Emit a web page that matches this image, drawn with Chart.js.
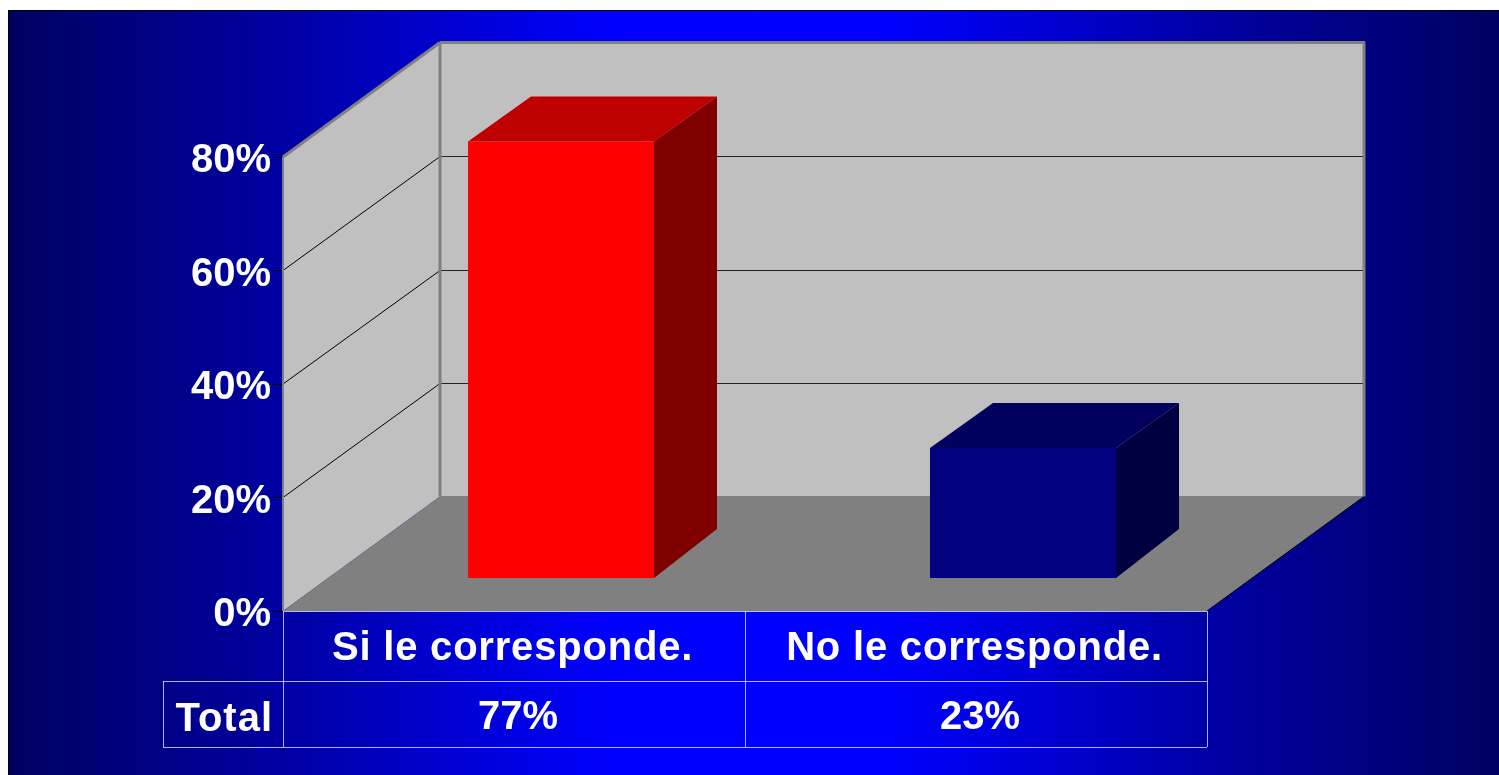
<!DOCTYPE html>
<html lang="es">
<head>
<meta charset="utf-8">
<title>Total</title>
<style>
    html, body { margin: 0; padding: 0; background: #fff; overflow: hidden; }
    canvas { display: block; }
</style>
<script src="https://cdn.jsdelivr.net/npm/chart.js@4/dist/chart.umd.min.js"></script>
</head>
<body>
<canvas id="chart" width="1499" height="775"></canvas>
<script>
const categories = ['Si le corresponde.', 'No le corresponde.'];
const totals = [77, 23];
const barFronts = ['#ff0000', '#000080'];
const barTops = ['#bf0000', '#00005f'];
const barSides = ['#800000', '#000040'];
const tickValues = [0, 20, 40, 60, 80];
const tableRowLabel = 'Total';

const FONT = '"Liberation Sans", Arial, sans-serif';
const WALL = '#c0c0c0';
const EDGE = '#808080';
const TABLE_LINE = 'rgba(225, 225, 255, 0.8)';

// Fake 3D: the wall sits one "wall depth" behind the axis plane, bars part way in
const wallDepth = { x: 157, y: -114.5 };
const barShift = { x: 47, y: -32.5 };
const barDepth = { x: 63, y: -45 };

function poly(ctx, pts, fill) {
    ctx.beginPath();
    pts.forEach(([x, y], i) => (i ? ctx.lineTo(x, y) : ctx.moveTo(x, y)));
    ctx.closePath();
    ctx.fillStyle = fill;
    ctx.fill();
}

function line(ctx, x1, y1, x2, y2, color, width) {
    ctx.beginPath();
    ctx.moveTo(x1, y1);
    ctx.lineTo(x2, y2);
    ctx.strokeStyle = color;
    ctx.lineWidth = width;
    ctx.stroke();
}

const backgroundPlugin = {
    id: 'slideBackground',
    beforeDraw(chart) {
        const { ctx, width, height } = chart;
        const frameX = 8, frameY = 10;
        const grad = ctx.createLinearGradient(frameX, 0, width, 0);
        grad.addColorStop(0, '#000060');
        grad.addColorStop(0.187, '#0000a4');
        grad.addColorStop(0.33, '#0000e0');
        grad.addColorStop(0.41, '#0000ff');
        grad.addColorStop(0.585, '#0000ff');
        grad.addColorStop(0.665, '#0000e0');
        grad.addColorStop(0.808, '#0000a4');
        grad.addColorStop(1, '#000060');
        ctx.save();
        ctx.fillStyle = grad;
        ctx.fillRect(frameX, frameY, width - frameX, height - frameY);
        line(ctx, frameX, frameY + 0.5, width, frameY + 0.5, '#000010', 1);
        line(ctx, frameX + 0.5, frameY, frameX + 0.5, height, '#000010', 1);
        ctx.restore();
    }
};

const wallsPlugin = {
    id: 'walls3d',
    beforeDatasetsDraw(chart) {
        const { ctx, chartArea: a, scales: { y } } = chart;
        const dx = wallDepth.x, dy = wallDepth.y;
        const backLeft = a.left + dx, backRight = a.right + dx;
        const backTop = a.top + dy, backBottom = a.bottom + dy;
        ctx.save();
        // back wall, side wall, floor
        poly(ctx, [[backLeft, backTop], [backRight, backTop], [backRight, backBottom], [backLeft, backBottom]], WALL);
        poly(ctx, [[a.left, a.top], [backLeft, backTop], [backLeft, backBottom], [a.left, a.bottom]], WALL);
        poly(ctx, [[a.left, a.bottom], [a.right, a.bottom], [backRight, backBottom], [backLeft, backBottom]], EDGE);
        line(ctx, backLeft, backBottom, backRight, backBottom, EDGE, 1);

        // gridlines run along the side wall, then across the back wall
        tickValues.slice(1, -1).forEach(v => {
            const py = y.getPixelForValue(v);
            const backY = Math.round(py + dy) + 0.5;
            line(ctx, a.left, py, backLeft, backY, '#000', 1);
            line(ctx, backLeft, backY, backRight, backY, '#222', 1);
        });

        // wall outlines
        line(ctx, a.left, a.top, backLeft, backTop, EDGE, 3);
        line(ctx, backLeft, backTop, backRight + 1, backTop, EDGE, 3);
        line(ctx, backLeft, backTop, backLeft, backBottom, EDGE, 3);
        line(ctx, backRight, backTop, backRight, backBottom, EDGE, 3);
        line(ctx, a.left, a.top, a.left, a.bottom, EDGE, 2);
        line(ctx, a.right, a.bottom, backRight, backBottom, '#000', 1);
        ctx.restore();
    }
};

const barBoxPlugin = {
    id: 'barBoxes',
    beforeDatasetDraw(chart) {
        chart.ctx.save();
        chart.ctx.translate(barShift.x, barShift.y);
    },
    afterDatasetDraw(chart, args) {
        const { ctx } = chart;
        const dx = barDepth.x, dy = barDepth.y;
        args.meta.data.forEach((bar, i) => {
            const p = bar.getProps(['x', 'y', 'base', 'width'], true);
            const l = p.x - p.width / 2, r = p.x + p.width / 2;
            poly(ctx, [[l, p.y], [r, p.y], [r + dx, p.y + dy], [l + dx, p.y + dy]], barTops[i]);
            poly(ctx, [[r, p.y], [r + dx, p.y + dy], [r + dx, p.base + dy - 4], [r, p.base]], barSides[i]);
        });
        ctx.restore();
    },
    afterDatasetsDraw(chart) {
        // the category labels (z: 1) are drawn right after this, slightly spaced out
        chart.ctx.letterSpacing = '0.8px';
    }
};

const dataTablePlugin = {
    id: 'dataTable',
    afterDraw(chart) {
        const { ctx, chartArea: a, scales: { x } } = chart;
        const rowY = a.bottom + 70, bottomY = a.bottom + 136, labelLeft = a.left - 120;
        const mid = (x.getPixelForValue(0) + x.getPixelForValue(1)) / 2;
        const valueShift = 4;
        ctx.save();
        line(ctx, a.left, a.bottom + 0.5, a.right, a.bottom + 0.5, TABLE_LINE, 1);
        line(ctx, labelLeft, rowY + 0.5, a.right, rowY + 0.5, TABLE_LINE, 1);
        line(ctx, labelLeft, bottomY + 0.5, a.right, bottomY + 0.5, TABLE_LINE, 1);
        line(ctx, labelLeft + 0.5, rowY, labelLeft + 0.5, bottomY, TABLE_LINE, 1);
        [a.left, mid, a.right].forEach(px => line(ctx, px + 0.5, a.bottom, px + 0.5, bottomY, TABLE_LINE, 1));

        ctx.fillStyle = '#fff';
        ctx.font = `bold 40px ${FONT}`;
        ctx.textBaseline = 'middle';
        ctx.textAlign = 'right';
        ctx.letterSpacing = '1px';
        ctx.fillText(tableRowLabel, a.left - 10, (rowY + bottomY) / 2 + 6);
        ctx.letterSpacing = '0px';
        ctx.textAlign = 'center';
        totals.forEach((v, i) => {
            ctx.fillText(v + '%', x.getPixelForValue(i) + valueShift, (rowY + bottomY) / 2 + 4);
        });
        ctx.restore();
        ctx.letterSpacing = '0px';
    }
};

new Chart(document.getElementById('chart'), {
    type: 'bar',
    data: {
        labels: categories,
        datasets: [{
            data: totals,
            backgroundColor: barFronts,
            borderWidth: 0,
            categoryPercentage: 1,
            barPercentage: 0.4026,
            clip: false
        }]
    },
    options: {
        responsive: false,
        animation: false,
        events: [],
        layout: { padding: { top: 157, right: 292, left: 0, bottom: 0 } },
        plugins: {
            legend: { display: false },
            title: { display: false },
            tooltip: { enabled: false }
        },
        scales: {
            x: {
                afterFit(axis) { axis.height = 164; },
                border: { display: false },
                grid: { display: false },
                ticks: {
                    color: '#fff',
                    padding: 6,
                    z: 1,
                    labelOffset: -1.5,
                    maxRotation: 0,
                    font: { family: FONT, size: 40, weight: 'bold' }
                }
            },
            y: {
                min: 0,
                max: 80,
                afterFit(axis) { axis.width = 283; },
                afterBuildTicks(axis) { axis.ticks = tickValues.map(value => ({ value })); },
                border: { display: false },
                grid: { drawOnChartArea: false, drawTicks: true, tickLength: 10, color: '#000', lineWidth: 1 },
                ticks: {
                    color: '#fff',
                    padding: 2,
                    labelOffset: 4,
                    font: { family: FONT, size: 40, weight: 'bold' },
                    callback: v => v + '%'
                }
            }
        }
    },
    plugins: [backgroundPlugin, wallsPlugin, barBoxPlugin, dataTablePlugin]
});
</script>
</body>
</html>
